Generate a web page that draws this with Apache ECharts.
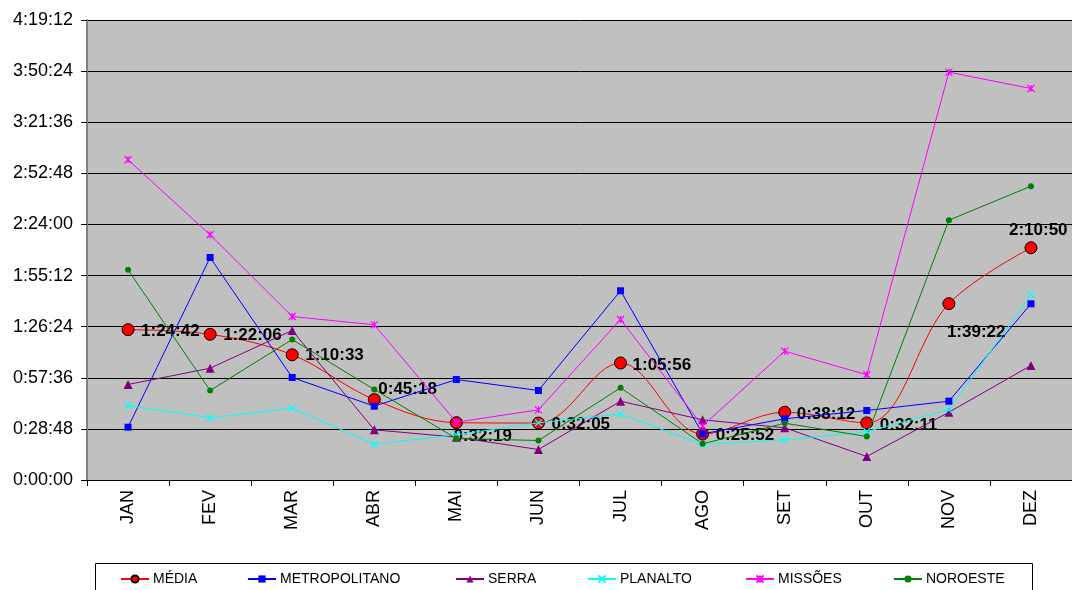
<!DOCTYPE html>
<html>
<head>
<meta charset="utf-8">
<script src="https://cdn.jsdelivr.net/npm/echarts@6/dist/echarts.min.js"></script>
<style>
  html, body { margin: 0; padding: 0; background: #ffffff; }
  #chart { width: 1072px; height: 590px; }
</style>
</head>
<body>
<div id="chart"></div>
<script>
// Monthly durations per region (h:mm:ss)
const months = ['JAN', 'FEV', 'MAR', 'ABR', 'MAI', 'JUN', 'JUL', 'AGO', 'SET', 'OUT', 'NOV', 'DEZ'];
const media = ['1:24:42', '1:22:06', '1:10:33', '0:45:18', '0:32:19', '0:32:05', '1:05:56', '0:25:52', '0:38:12', '0:32:11', '1:39:22', '2:10:50'];
const metropolitano = ['0:29:45', '2:05:23', '0:57:46', '0:41:35', '0:56:38', '0:50:26', '1:46:37', '0:26:02', '0:34:29', '0:39:10', '0:44:25', '1:39:17'];
const serra = ['0:53:49', '1:03:00', '1:24:15', '0:28:17', '0:24:07', '0:17:11', '0:44:24', '0:33:55', '0:29:25', '0:13:15', '0:38:12', '1:04:31'];
const planalto = ['0:41:59', '0:35:03', '0:40:28', '0:20:10', '0:25:28', '0:32:14', '0:37:05', '0:20:00', '0:22:39', '0:27:20', '0:39:33', '1:44:22'];
const missoes = ['3:00:26', '2:18:10', '1:32:08', '1:27:27', '0:32:34', '0:39:33', '1:30:27', '0:30:26', '1:12:35', '0:59:17', '3:49:48', '3:40:36'];
const noroeste = ['1:58:27', '0:50:26', '1:19:10', '0:51:00', '0:23:23', '0:22:15', '0:51:57', '0:20:24', '0:32:00', '0:24:31', '2:26:24', '2:45:33'];
// Axis: 0:00:00 .. 4:19:12 in steps of 0:28:48
const axisMax = '4:19:12';
const axisStep = '0:28:48';

const FONT = '"Liberation Sans", Arial, sans-serif';

function toSec(t) {
  const p = t.split(':').map(Number);
  return p[0] * 3600 + p[1] * 60 + p[2];
}
function fmt(s) {
  s = Math.round(s);
  const h = Math.floor(s / 3600);
  const m = Math.floor((s % 3600) / 60);
  const sec = s % 60;
  return h + ':' + String(m).padStart(2, '0') + ':' + String(sec).padStart(2, '0');
}

// label offsets for the average line, relative to the marker centre
const mediaLabelOffsets = [
  [13, 2], [13, 1], [13, 1], [4, -10], [-3, 14], [13, 1],
  [12, 2], [13, 1], [12, 2], [13, 2], [-2, 29], [-22, -17]
];

const xMark = 'path://M0,0L10,10M10,0L0,10';
const starMark = 'path://M0,0L10,10M10,0L0,10M5,0L5,10';

function lineSeries(name, values, color, symbol, size, extra) {
  return Object.assign({
    name: name,
    type: 'line',
    data: values.map(toSec),
    symbol: symbol,
    symbolSize: size,
    lineStyle: { color: color, width: 1 },
    itemStyle: { color: color, borderColor: color, borderWidth: 0 },
    emphasis: { disabled: true },
    animation: false
  }, extra || {});
}

const series = [
  lineSeries('MÉDIA', media, '#FF0000', 'circle', 12, {
    smooth: 0.35,
    itemStyle: { color: '#FF0000', borderColor: '#000000', borderWidth: 1 },
    data: media.map(function (t, i) {
      return {
        value: toSec(t),
        label: {
          show: true,
          position: 'inside',
          align: 'left',
          verticalAlign: 'middle',
          offset: mediaLabelOffsets[i],
          formatter: function () { return t; },
          color: '#000000',
          fontFamily: FONT,
          fontWeight: 'bold',
          fontSize: 17
        }
      };
    }),
    z: 2
  }),
  lineSeries('METROPOLITANO', metropolitano, '#0000FF', 'rect', 7, { z: 3 }),
  lineSeries('SERRA', serra, '#800080', 'triangle', 9, { z: 3 }),
  lineSeries('PLANALTO', planalto, '#00FFFF', xMark, 7, {
    itemStyle: { color: '#00FFFF', borderColor: '#00FFFF', borderWidth: 1.2 }, z: 3
  }),
  lineSeries('MISSÕES', missoes, '#FF00FF', starMark, 7, {
    itemStyle: { color: '#FF00FF', borderColor: '#FF00FF', borderWidth: 1.2 }, z: 3
  }),
  lineSeries('NOROESTE', noroeste, '#008000', 'circle', 6, { z: 3 })
];

const legendNames = ['MÉDIA', 'METROPOLITANO', 'SERRA', 'PLANALTO', 'MISSÕES', 'NOROESTE'];
const legendLeft = [120, 247, 455, 587, 745, 893];

const chart = echarts.init(document.getElementById('chart'), null, { renderer: 'canvas' });
chart.setOption({
  backgroundColor: '#ffffff',
  animation: false,
  grid: {
    left: 87, top: 20, width: 985, height: 460,
    show: true, backgroundColor: '#C0C0C0', borderWidth: 0
  },
  xAxis: {
    type: 'category',
    data: months,
    boundaryGap: true,
    axisLine: { show: true, lineStyle: { color: '#000000', width: 1 } },
    axisTick: { show: true, inside: false, length: 6, alignWithLabel: false, lineStyle: { color: '#000000' } },
    axisLabel: {
      rotate: 90, margin: 10, color: '#000000', fontFamily: FONT, fontSize: 18
    },
    splitLine: { show: false }
  },
  yAxis: {
    type: 'value',
    min: 0,
    max: toSec(axisMax),
    interval: toSec(axisStep),
    axisLine: { show: true, lineStyle: { color: '#808080', width: 2 } },
    axisTick: { show: true, length: 6, lineStyle: { color: '#000000' } },
    axisLabel: {
      margin: 14, color: '#000000', fontFamily: FONT, fontSize: 18,
      formatter: function (v) { return fmt(v); }
    },
    splitLine: { show: true, lineStyle: { color: '#000000', width: 1 } }
  },
  legend: legendNames.map(function (n, i) {
    return {
      data: [n],
      left: legendLeft[i],
      top: 572,
      padding: 0,
      itemWidth: 28,
      itemHeight: 9,
      itemGap: 0,
      selectedMode: false,
      textStyle: { color: '#000000', fontFamily: FONT, fontSize: 14, padding: [0, 0, 0, -1] }
    };
  }),
  graphic: [{
    type: 'rect',
    shape: { x: 95.5, y: 563.5, width: 937, height: 40 },
    style: { fill: 'none', stroke: '#000000', lineWidth: 1 },
    z: 0
  }],
  series: series
});
</script>
</body>
</html>
